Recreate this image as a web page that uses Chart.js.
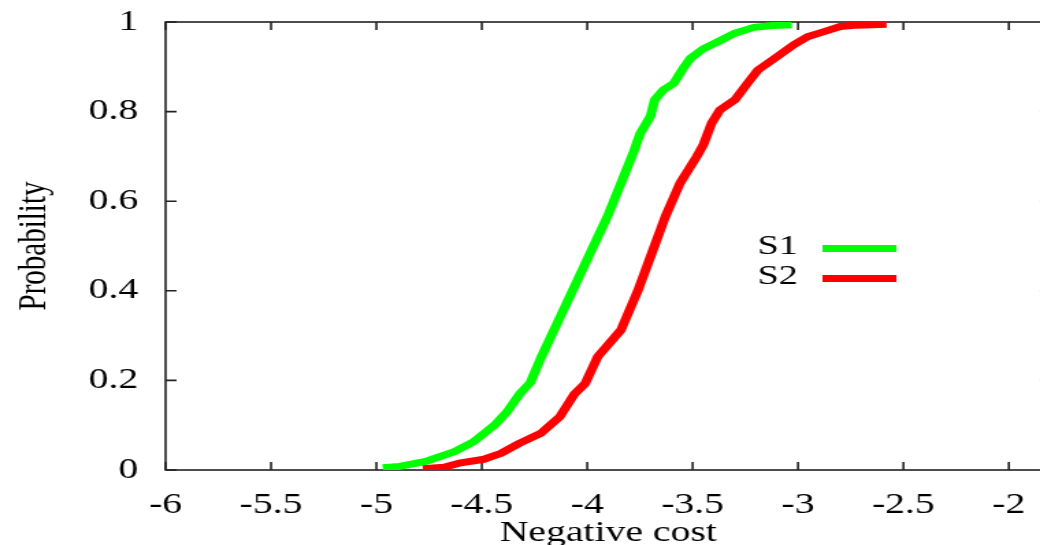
<!DOCTYPE html>
<html>
<head>
<meta charset="utf-8">
<script src="https://cdn.jsdelivr.net/npm/chart.js@4.4.1/dist/chart.umd.min.js"></script>
<style>
  html, body { margin: 0; padding: 0; background: #fff; overflow: hidden; }
  #cdfChart { display: block; }
</style>
</head>
<body>
<!-- drawn at 768 px wide and stretched ~1.37x, like the wide serif text in the original figure;
     the right edge of the frame falls just past the 1040 px window -->
<canvas id="cdfChart" width="768" height="545" style="width:1051px;height:545px"></canvas>
<script>
// ---- DATA ----
const seriesLabels = ['S1', 'S2'];
const seriesColors = ['#00ff00', '#ff0000'];

const s1Cost = [-4.97, -4.89, -4.76, -4.63, -4.54, -4.44, -4.38, -4.32, -4.27, -4.22,
                -4.13, -4.05, -3.98, -3.905, -3.84, -3.78, -3.75, -3.70, -3.68, -3.64,
                -3.59, -3.54, -3.51, -3.45, -3.38, -3.30, -3.21, -3.12, -3.03];
const s1Prob = [0.005, 0.008, 0.02, 0.041, 0.063, 0.10, 0.13, 0.17, 0.195, 0.25,
                0.34, 0.42, 0.49, 0.565, 0.64, 0.71, 0.75, 0.79, 0.826, 0.848,
                0.863, 0.90, 0.919, 0.94, 0.956, 0.975, 0.988, 0.992, 0.994];

const s2Cost = [-4.78, -4.68, -4.60, -4.49, -4.41, -4.32, -4.22, -4.13, -4.06, -4.01,
                -3.95, -3.84, -3.76, -3.70, -3.63, -3.56, -3.48, -3.45, -3.41, -3.37,
                -3.30, -3.24, -3.19, -3.11, -3.02, -2.955, -2.88, -2.80, -2.72, -2.58];
const s2Prob = [0.003, 0.006, 0.016, 0.024, 0.037, 0.06, 0.082, 0.119, 0.17, 0.193,
                0.253, 0.3125, 0.40, 0.476, 0.565, 0.64, 0.70, 0.725, 0.774, 0.804,
                0.826, 0.863, 0.893, 0.919, 0.949, 0.967, 0.978, 0.99, 0.993, 0.995];

const xTickValues = [-6, -5.5, -5, -4.5, -4, -3.5, -3, -2.5, -2];
const yTickValues = [0, 0.2, 0.4, 0.6, 0.8, 1];

// ---- STYLE ----
const serif = "'Liberation Serif', 'Times New Roman', serif";
const axisColor = '#222';

const toPoints = (xs, ys) => xs.map((x, i) => ({ x: x, y: ys[i] }));

// box round the plot with inward tick marks on all sides
const framePlugin = {
    id: 'frame',
    beforeDatasetsDraw(chart) {
        const { ctx, chartArea: a, scales } = chart;
        const tick = 8;
        ctx.save();
        ctx.strokeStyle = axisColor;
        ctx.lineWidth = 1.6;
        ctx.strokeRect(a.left, a.top, a.right - a.left, a.bottom - a.top);
        ctx.beginPath();
        scales.x.ticks.forEach(t => {
            const px = scales.x.getPixelForValue(t.value);
            ctx.moveTo(px, a.bottom); ctx.lineTo(px, a.bottom - tick);
            ctx.moveTo(px, a.top); ctx.lineTo(px, a.top + tick);
        });
        scales.y.ticks.forEach(t => {
            const py = scales.y.getPixelForValue(t.value);
            ctx.moveTo(a.left, py); ctx.lineTo(a.left + tick, py);
            ctx.moveTo(a.right, py); ctx.lineTo(a.right - tick, py);
        });
        ctx.stroke();
        ctx.restore();
    }
};

// gnuplot style key: label on the left, line sample on the right
const keyPlugin = {
    id: 'key',
    afterDatasetsDraw(chart) {
        const { ctx } = chart;
        ctx.save();
        ctx.font = '28px ' + serif;
        ctx.textAlign = 'right';
        ctx.textBaseline = 'middle';
        chart.data.datasets.forEach((ds, i) => {
            const y = 247 + i * 30;
            ctx.fillStyle = '#000';
            ctx.fillText(ds.label, 583, y);
            ctx.strokeStyle = ds.borderColor;
            ctx.lineWidth = 7;
            ctx.beginPath();
            ctx.moveTo(601, y + 1.5);
            ctx.lineTo(655, y + 1.5);
            ctx.stroke();
        });
        ctx.restore();
    }
};

const ctx = document.getElementById('cdfChart').getContext('2d');

new Chart(ctx, {
    type: 'scatter',
    data: {
        datasets: [
            {
                label: seriesLabels[0],
                data: toPoints(s1Cost, s1Prob),
                borderColor: seriesColors[0],
                backgroundColor: seriesColors[0],
                order: 1
            },
            {
                label: seriesLabels[1],
                data: toPoints(s2Cost, s2Prob),
                borderColor: seriesColors[1],
                backgroundColor: seriesColors[1],
                order: 0
            }
        ]
    },
    options: {
        responsive: false,
        animation: false,
        devicePixelRatio: 1,
        layout: { padding: { top: 22, right: 0, left: 0, bottom: 0 } },
        datasets: {
            scatter: {
                showLine: true,
                borderWidth: 7,
                pointRadius: 0,
                pointHoverRadius: 0,
                tension: 0,
                borderCapStyle: 'butt',
                borderJoinStyle: 'round'
            }
        },
        plugins: {
            legend: { display: false },
            tooltip: { enabled: false }
        },
        scales: {
            x: {
                type: 'linear',
                min: -6,
                max: -1.8,
                afterBuildTicks: (scale) => {
                    scale.ticks = xTickValues.map(v => ({ value: v }));
                },
                afterFit: (scale) => {
                    scale.height = 75;
                    scale.paddingLeft = 0;
                    scale.paddingRight = 0;
                },
                grid: { display: false, drawTicks: false },
                border: { display: false },
                ticks: {
                    autoSkip: false,
                    maxRotation: 0,
                    padding: 18,
                    color: '#000',
                    font: { family: serif, size: 29 },
                    callback: (v) => String(v)
                },
                title: {
                    display: true,
                    text: 'Negative cost',
                    color: '#000',
                    padding: { top: 0, bottom: 0 },
                    font: { family: serif, size: 29, lineHeight: 0.8 }
                }
            },
            y: {
                type: 'linear',
                min: 0,
                max: 1,
                afterBuildTicks: (scale) => {
                    scale.ticks = yTickValues.map(v => ({ value: v }));
                },
                afterFit: (scale) => {
                    scale.width = 121;
                    scale.paddingTop = 0;
                    scale.paddingBottom = 0;
                },
                grid: { display: false, drawTicks: false },
                border: { display: false },
                ticks: {
                    padding: 20,
                    color: '#000',
                    font: { family: serif, size: 29 },
                    callback: (v) => String(v)
                },
                title: {
                    display: true,
                    text: 'Probability',
                    color: '#000',
                    padding: { top: 14, bottom: 0 },
                    font: { family: serif, size: 29, lineHeight: 0.8 }
                }
            }
        }
    },
    plugins: [framePlugin, keyPlugin]
});
</script>
</body>
</html>
